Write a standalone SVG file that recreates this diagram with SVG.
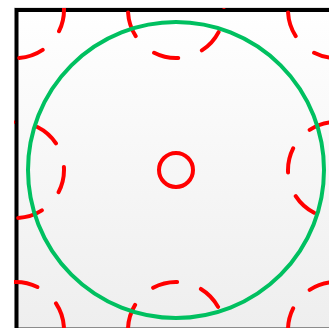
<svg xmlns="http://www.w3.org/2000/svg" width="329" height="328" viewBox="0 0 329 328">
  <defs>
    <linearGradient id="bg" x1="0" y1="0" x2="0" y2="1">
      <stop offset="0" stop-color="#ffffff"/>
      <stop offset="1" stop-color="#eeeeee"/>
    </linearGradient>
    <clipPath id="area">
      <rect x="14" y="8" width="400" height="400"/>
    </clipPath>
  </defs>
  <style>
    .dash { fill: none; stroke: #ff0000; stroke-width: 4; stroke-dasharray: 25 25; stroke-linecap: round; }
    .frame { fill: none; stroke: #000000; stroke-width: 4; }
  </style>
  <rect x="0" y="0" width="329" height="328" fill="#ffffff"/>
  <g id="background">
    <rect x="14" y="8" width="315" height="320" fill="url(#bg)"/>
    <line x1="14" y1="7.5" x2="329" y2="7.5" stroke="#e4e4e4" stroke-width="1"/>
    <line x1="18" y1="327.5" x2="329" y2="327.5" stroke="#8c8c8c" stroke-width="1"/>
  </g>
  <g id="frame">
    <path class="frame" d="M16.5 328 V10 H329"/>
  </g>
  <g id="dashed-circles" clip-path="url(#area)">
    <circle id="c-tl" class="dash" cx="16" cy="10" r="48" stroke-dashoffset="3"/>
    <circle id="c-tm" class="dash" cx="176" cy="10" r="48" stroke-dashoffset="27"/>
    <circle id="c-tr" class="dash" cx="336" cy="10" r="48" stroke-dashoffset="27"/>
    <circle id="c-ml" class="dash" cx="16" cy="170" r="48" stroke-dashoffset="2"/>
    <circle id="c-mr" class="dash" cx="336" cy="170" r="48" stroke-dashoffset="2"/>
    <circle id="c-bl" class="dash" cx="16" cy="330" r="48" stroke-dashoffset="27"/>
    <circle id="c-bm" class="dash" cx="176" cy="330" r="48" stroke-dashoffset="48"/>
    <circle id="c-br" class="dash" cx="336" cy="330" r="48" stroke-dashoffset="2"/>
  </g>
  <g id="green-circle">
    <circle cx="176" cy="170" r="148" fill="none" stroke="#00c060" stroke-width="4"/>
  </g>
  <g id="center-circle">
    <circle cx="176" cy="170" r="17" fill="none" stroke="#ff0000" stroke-width="4"/>
  </g>
</svg>
